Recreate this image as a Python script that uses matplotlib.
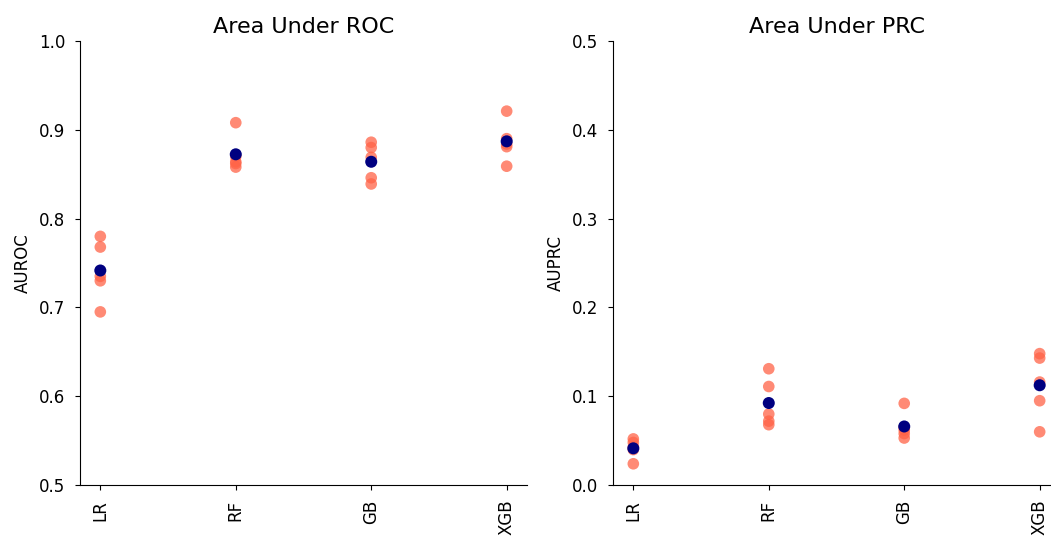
import matplotlib
matplotlib.use("Agg")
import matplotlib.pyplot as plt
import numpy as np

models = ["LR", "RF", "GB", "XGB"]
auroc_folds = {
    "LR": [0.780, 0.768, 0.735, 0.730, 0.695],
    "RF": [0.908, 0.870, 0.864, 0.862, 0.858],
    "GB": [0.886, 0.880, 0.869, 0.846, 0.839],
    "XGB": [0.921, 0.890, 0.884, 0.881, 0.859],
}
auprc_folds = {
    "LR": [0.052, 0.048, 0.043, 0.040, 0.024],
    "RF": [0.131, 0.111, 0.080, 0.072, 0.068],
    "GB": [0.092, 0.065, 0.062, 0.058, 0.053],
    "XGB": [0.148, 0.143, 0.116, 0.095, 0.060],
}

fig, axes = plt.subplots(1, 2, figsize=(10.51, 5.39), dpi=100)
fig.subplots_adjust(left=80/1051, right=1060/1051, bottom=0.1, top=0.924, wspace=0.1924)

panels = [
    (axes[0], auroc_folds, "Area Under ROC", "AUROC", (0.5, 1.0)),
    (axes[1], auprc_folds, "Area Under PRC", "AUPRC", (0.0, 0.5)),
]
for ax, data, title, ylabel, ylim in panels:
    for i, m in enumerate(models):
        vals = data[m]
        ax.scatter([m] * len(vals), vals, s=70, color="tomato", alpha=0.75,
                   edgecolors="none", zorder=2)
        ax.scatter([m], [np.mean(vals)], s=75, color="navy", edgecolors="none", zorder=3)
    ax.set_ylim(*ylim)
    ax.set_title(title, fontsize=16)
    ax.set_ylabel(ylabel, fontsize=12, labelpad=5)
    ax.tick_params(axis="both", labelsize=12, pad=7)
    ax.tick_params(axis="x", labelrotation=90)
    ax.spines["top"].set_visible(False)
    ax.spines["right"].set_visible(False)

fig.savefig("out.png", dpi=100)
